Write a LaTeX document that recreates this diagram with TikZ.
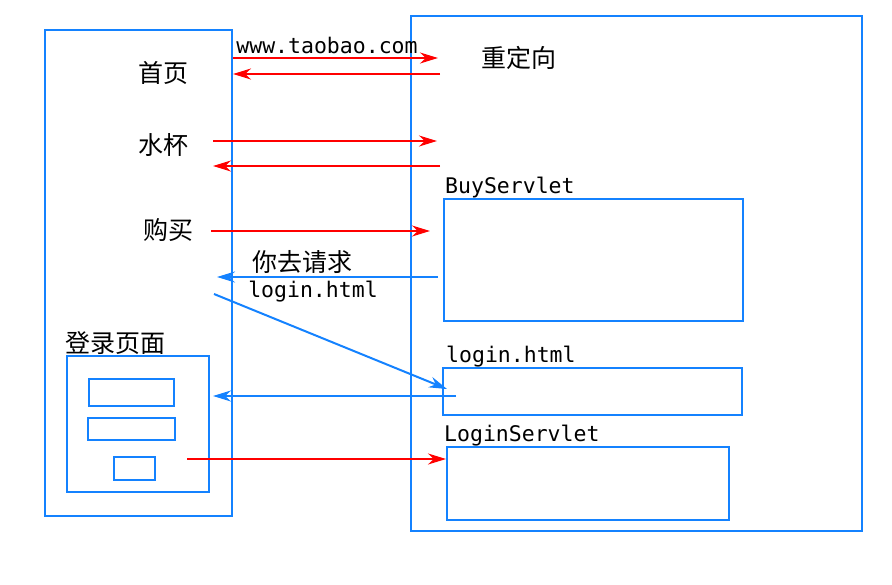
\documentclass[tikz,border=0pt]{standalone}
\usepackage{fontspec}
\setmonofont{DejaVu Sans Mono}
\newfontfamily\cjk{Noto Sans CJK SC}
\usetikzlibrary{arrows.meta,positioning}

\begin{document}
\begin{tikzpicture}[x=1pt,y=-1pt]
        % Define colors
        \definecolor{boxblue}{RGB}{20,130,255}
        \definecolor{reqred}{RGB}{255,0,0}
        \tikzset{
            frame/.style={draw=boxblue, line width=2.1pt, inner sep=0pt, outer sep=0pt},
            cjktext/.style={font=\cjk\fontsize{25}{29}\selectfont, inner sep=1pt},
            monotext/.style={font=\ttfamily\fontsize{21.5}{25}\selectfont, inner sep=1pt},
            redarrow/.style={draw=reqred, line width=2pt, -{Stealth[length=18pt,width=11pt]}},
            bluearrow/.style={draw=boxblue, line width=2pt, -{Stealth[length=18pt,width=11pt]}}
        }
        \useasboundingbox (0,0) rectangle (892,584);

        % Browser side
        \node[frame, minimum width=187, minimum height=486] (browser) at (138.5,273) {};
        \node[cjktext] (home) at (163,73) {首页};
        \node[cjktext] (cup) at (163,145) {水杯};
        \node[cjktext] (buy) at (168,230) {购买};
        \node[frame, minimum width=142, minimum height=136] (loginpage) at (138,424) {};
        \node[cjktext, above right=0pt and -3pt of loginpage.north west] (loginpagelabel) {登录页面};
        \node[frame, minimum width=85, minimum height=27] (field1) at (131.5,392.5) {};
        \node[frame, minimum width=87, minimum height=22] (field2) at (131.5,429) {};
        \node[frame, minimum width=41, minimum height=23] (submit) at (134.5,468.5) {};

        % Server side
        \node[frame, minimum width=451, minimum height=515] (server) at (636.5,273.5) {};
        \node[cjktext] (redirect) at (519,58) {重定向};
        \node[frame, minimum width=299, minimum height=122] (buyservlet) at (593.5,260) {};
        \node[monotext, anchor=south west] (buylabel) at (buyservlet.north west) {BuyServlet};
        \node[frame, minimum width=299, minimum height=47] (loginhtml) at (592.5,391.5) {};
        \node[monotext, anchor=south west] (htmllabel) at ([xshift=2pt]loginhtml.north west) {login.html};
        \node[frame, minimum width=282, minimum height=73] (loginservlet) at (588,483.5) {};
        \node[monotext, anchor=south west] (servletlabel) at ([xshift=-4pt]loginservlet.north west) {LoginServlet};

        % Arrow ends
        \coordinate (homeout) at (233,58);   \coordinate (homein) at (438,58);
        \coordinate (homeback) at (440,74);  \coordinate (homeret) at (233,74);
        \coordinate (cupout) at (213,141);   \coordinate (cupin) at (437,141);
        \coordinate (cupback) at (440,166);  \coordinate (cupret) at (213,166);
        \coordinate (buyout) at (211,231);   \coordinate (buyin) at (430,231);
        \coordinate (tellback) at (438,277); \coordinate (tellret) at (217,277);
        \coordinate (askout) at (214,294);   \coordinate (askin) at (447,389);
        \coordinate (pageback) at (456,396); \coordinate (pageret) at (213,396);
        \coordinate (sendout) at (187,459);  \coordinate (sendin) at (446,459);

        % Requests and responses
        \draw[redarrow] (homeout) -- (homein);
        \node[monotext] (urllabel) at (327,45) {www.taobao.com};
        \draw[redarrow] (homeback) -- (homeret);
        \draw[redarrow] (cupout) -- (cupin);
        \draw[redarrow] (cupback) -- (cupret);
        \draw[redarrow] (buyout) -- (buyin);
        \draw[bluearrow] (tellback) -- (tellret);
        \node[cjktext] (telllabel) at (302,262) {你去请求};
        \node[monotext] (telllabel2) at (313,292) {login.html};
        \draw[bluearrow] (askout) -- (askin);
        \draw[bluearrow] (pageback) -- (pageret);
        \draw[redarrow] (sendout) -- (sendin);
\end{tikzpicture}
\end{document}
